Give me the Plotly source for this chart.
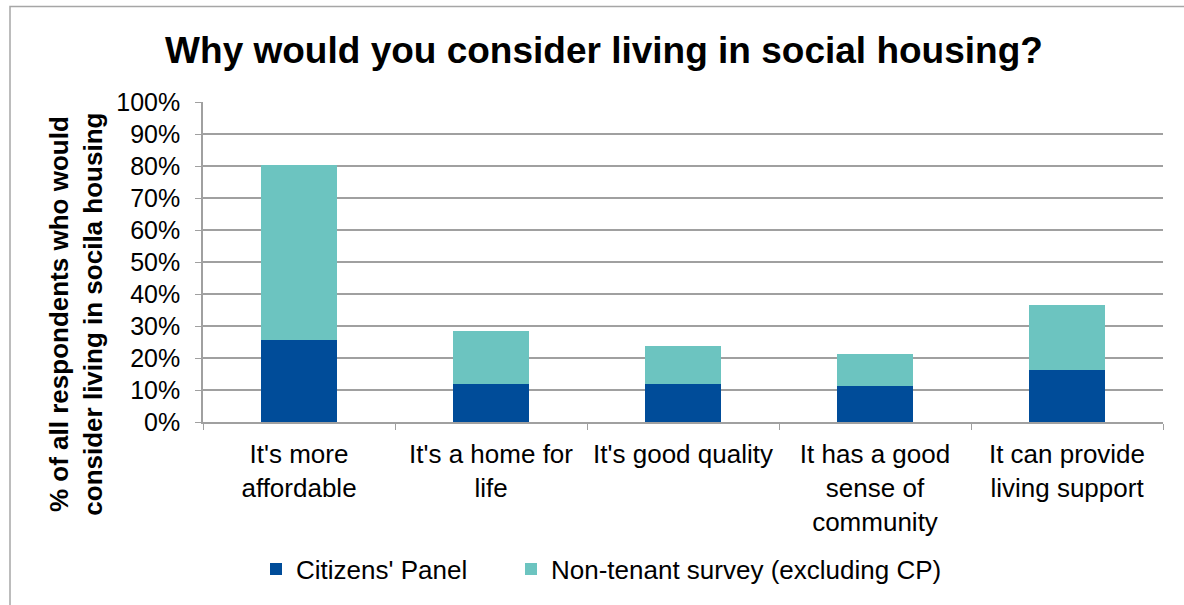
import plotly.graph_objects as go

# Reasons for considering social housing
categories = [
    "It's more<br>affordable",
    "It's a home for<br>life",
    "It's good quality",
    "It has a good<br>sense of<br>community",
    "It can provide<br>living support",
]
citizens_panel = [0.255, 0.119, 0.119, 0.113, 0.162]
non_tenant = [0.547, 0.164, 0.120, 0.099, 0.203]

y_ticks = [i / 10 for i in range(11)]
y_tick_labels = [f"{i * 10}%" for i in range(11)]

FONT = "Liberation Sans, Arial, sans-serif"
GRID = "#a0a0a0"

fig = go.Figure()
fig.add_trace(go.Bar(
    x=categories, y=citizens_panel, name="Citizens' Panel",
    marker=dict(color="#004C99", line=dict(width=0)),
    legend="legend",
))
fig.add_trace(go.Bar(
    x=categories, y=non_tenant, name="Non-tenant survey (excluding CP)",
    marker=dict(color="#6CC4C0", line=dict(width=0)),
    legend="legend2",
))

L, R, T, B = 203, 21, 102, 181
W, H = 1184, 605
pw, ph = W - L - R, H - T - B

def px_x(x):
    return (x - L) / pw

def px_y(y):
    return (H - B - y) / ph

legend_style = dict(
    orientation="h", xanchor="left", y=px_y(572), yanchor="middle",
    font=dict(family=FONT, size=26, color="black"),
    itemwidth=30, bgcolor="rgba(0,0,0,0)",
)

fig.update_layout(
    width=W, height=H,
    margin=dict(l=L, r=R, t=T, b=B),
    barmode="stack", bargap=0.6,
    paper_bgcolor="white", plot_bgcolor="white",
    font=dict(family=FONT, size=25, color="black"),
    title=dict(
        text="<b>Why would you consider living in social housing?</b>",
        x=604 / W, xanchor="center", y=1 - 50 / H, yanchor="middle",
        font=dict(family=FONT, size=37, color="black"),
    ),
    showlegend=True,
    legend=dict(x=px_x(256), **legend_style),
    legend2=dict(x=px_x(511), **legend_style),
    xaxis=dict(
        type="category", tickson="boundaries",
        ticks="outside", ticklen=6, tickcolor=GRID,
        showline=True, linecolor=GRID, linewidth=1.5,
        tickfont=dict(family=FONT, size=26, color="black"),
        ticklabelstandoff=8,
        showgrid=False,
    ),
    yaxis=dict(
        range=[0, 1], tickvals=y_ticks, ticktext=y_tick_labels,
        ticks="outside", ticklen=6, tickcolor=GRID,
        showline=True, linecolor=GRID, linewidth=1.5,
        showgrid=True, gridcolor=GRID, gridwidth=1.5,
        tickfont=dict(family=FONT, size=25, color="black"),
        ticklabelstandoff=10,
        zeroline=False,
    ),
    annotations=[dict(
        text="<b>% of all respondents who would<br>consider living in socila housing</b>",
        textangle=-90, xref="paper", yref="paper",
        x=px_x(76), y=px_y(316), xanchor="center", yanchor="middle",
        showarrow=False, font=dict(family=FONT, size=26, color="black"),
    )],
    shapes=[dict(
        type="rect", xref="paper", yref="paper",
        x0=px_x(10), x1=px_x(W + 10), y0=px_y(H + 10), y1=px_y(6),
        line=dict(color="#a6a6a6", width=1.5), fillcolor="rgba(0,0,0,0)",
        layer="below",
    )],
)

fig.write_html("out.html")
